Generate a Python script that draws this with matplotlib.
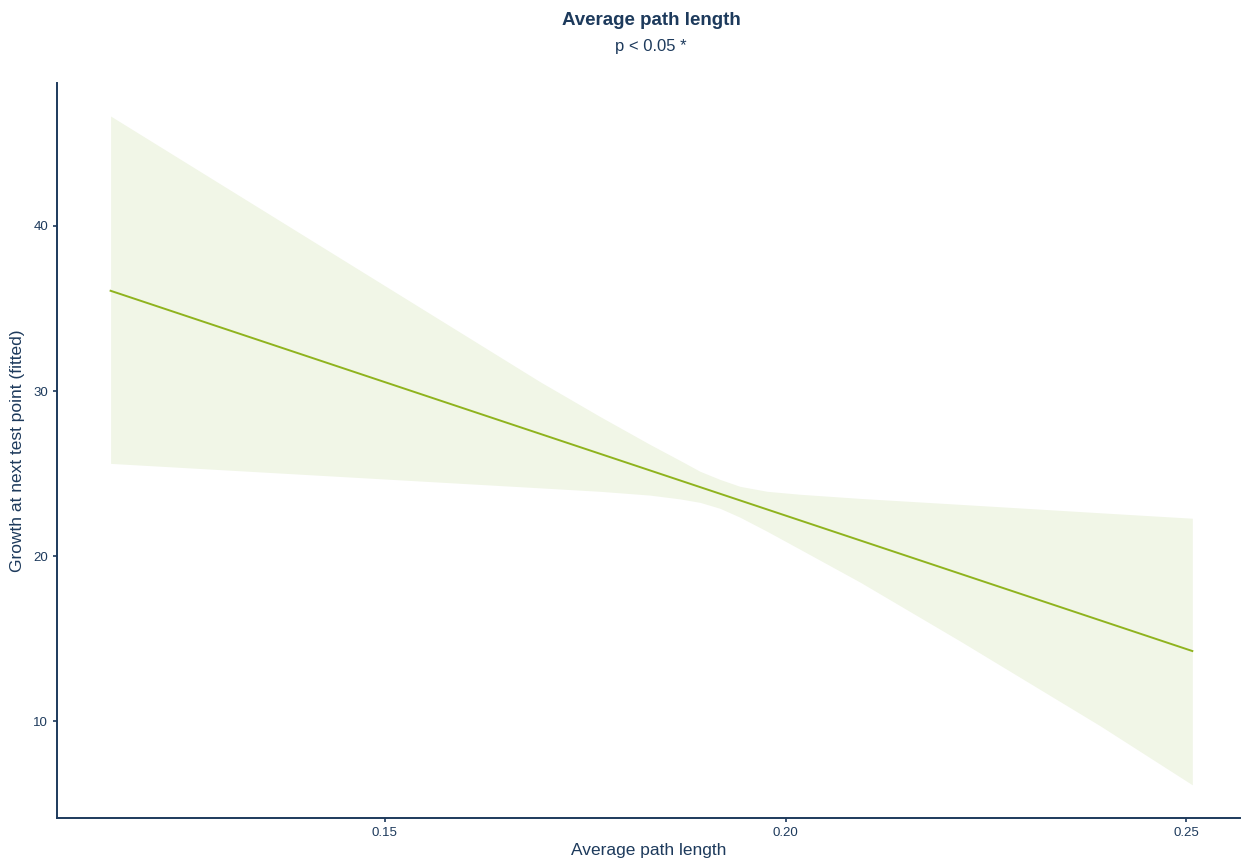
import matplotlib
matplotlib.use("Agg")
import matplotlib.pyplot as plt

# Fitted effect of average path length with its confidence band
path_len = [0.11579, 0.16935, 0.17684, 0.18308, 0.18683, 0.18933, 0.19182, 0.19432,
            0.19769, 0.20181, 0.20930, 0.22179, 0.23926, 0.25075]
band_upper = [46.65, 30.57, 28.46, 26.77, 25.80, 25.14, 24.65, 24.23,
              23.93, 23.75, 23.50, 23.14, 22.63, 22.30]
band_lower = [25.62, 24.14, 23.93, 23.70, 23.47, 23.26, 22.90, 22.36,
              21.51, 20.42, 18.43, 14.86, 9.73, 6.16]
fit_x = [0.11579, 0.25075]
fit_y = [36.07, 14.26]

x_ticks = [0.15, 0.20, 0.25]
x_tick_labels = ["0.15", "0.20", "0.25"]
y_ticks = [10, 20, 30, 40]

navy = "#1d3a5c"
line_col = "#8fb31e"
band_col = "#f1f6e7"

plt.rcParams["font.family"] = ["Liberation Sans", "DejaVu Sans"]

fig = plt.figure(figsize=(12.44, 8.59), dpi=100)
ax = fig.add_axes([0.0458, 0.0477, 0.951, 0.8557])

ax.fill_between(path_len, band_lower, band_upper, color=band_col, linewidth=0)
ax.plot(fit_x, fit_y, color=line_col, linewidth=1.4)

ax.set_xlim(0.1091, 0.2567)
ax.set_ylim(4.15, 48.65)
ax.set_xticks(x_ticks)
ax.set_xticklabels(x_tick_labels)
ax.set_yticks(y_ticks)

for s in ["top", "right"]:
    ax.spines[s].set_visible(False)
for s in ["left", "bottom"]:
    ax.spines[s].set_color(navy)
    ax.spines[s].set_linewidth(1.4)
ax.tick_params(colors=navy, labelcolor=navy, labelsize=9.5, length=3, width=1.2)

ax.set_xlabel("Average path length", color=navy, fontsize=12.5, labelpad=3)
ax.set_ylabel("Growth at next test point (fitted)", color=navy, fontsize=12.5, labelpad=6)

fig.text(0.5235, 0.976, "Average path length", ha="center", va="center",
         color=navy, fontsize=13.5, fontweight="bold")
fig.text(0.5235, 0.946, "p < 0.05 *", ha="center", va="center",
         color=navy, fontsize=12)

fig.savefig("out.png", dpi=100, facecolor="white")
